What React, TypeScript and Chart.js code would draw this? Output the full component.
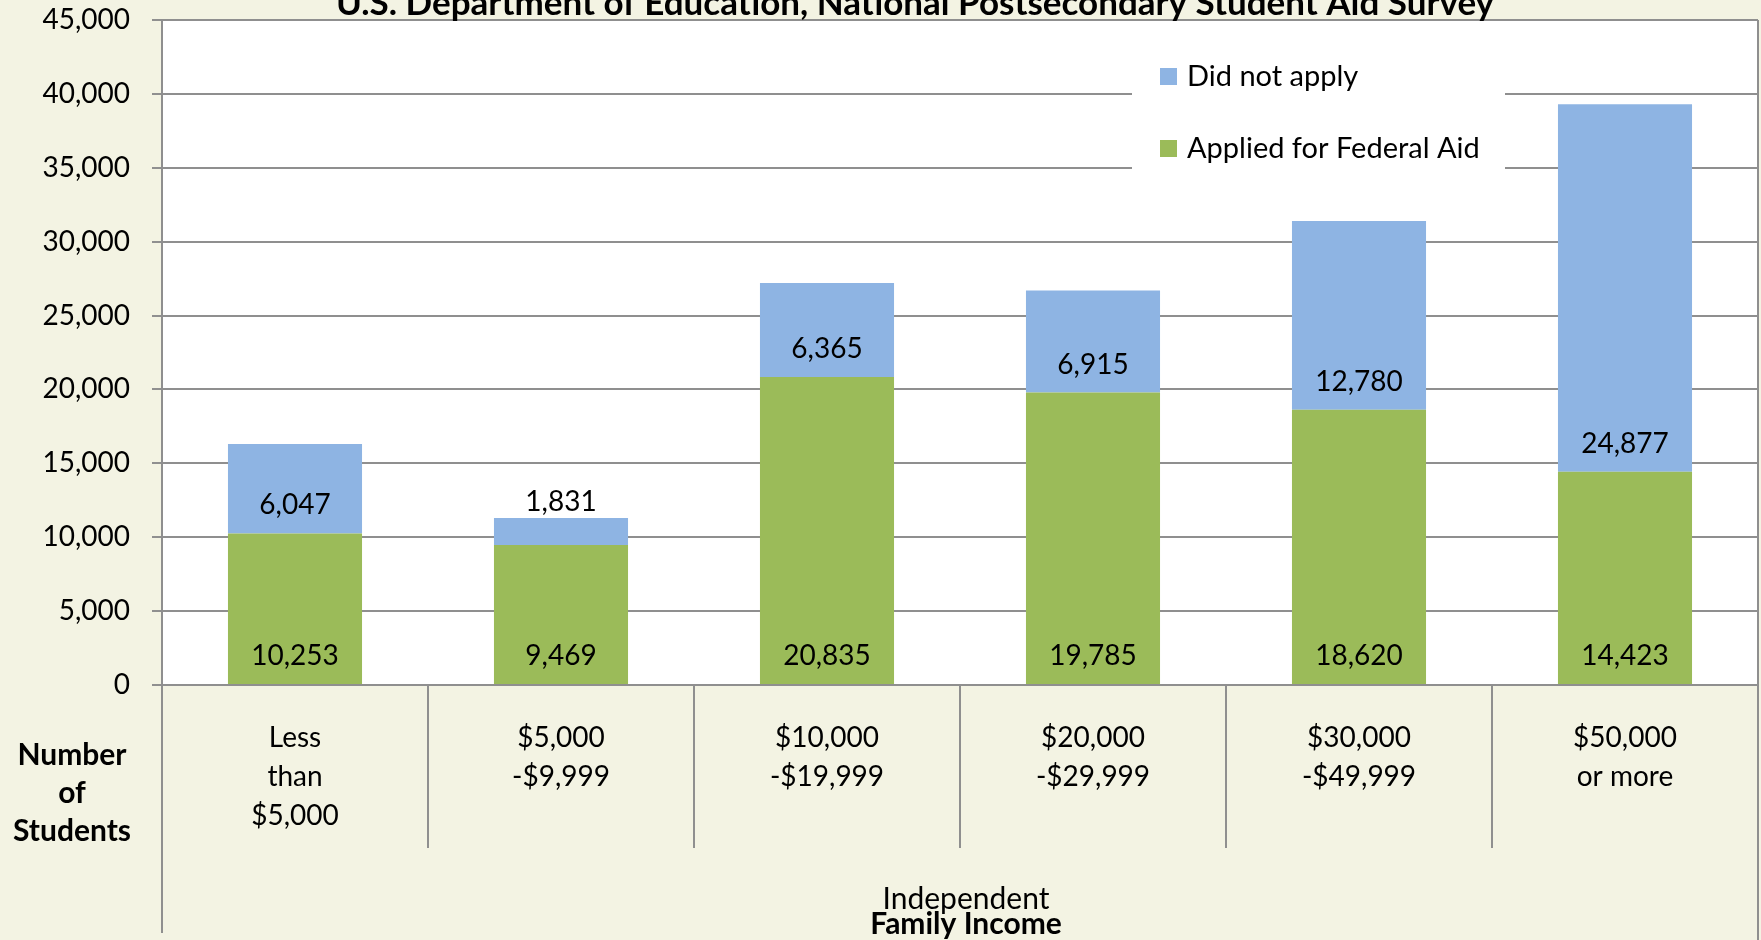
import React, { useEffect, useRef } from "react";
import { Chart, registerables } from "chart.js";

Chart.register(...registerables);

const titleText = "U.S. Department of Education, National Postsecondary Student Aid Survey";
const categories: string[][] = [
  ["Less", "than", "$5,000"],
  ["$5,000", "-$9,999"],
  ["$10,000", "-$19,999"],
  ["$20,000", "-$29,999"],
  ["$30,000", "-$49,999"],
  ["$50,000", "or more"],
];
const appliedValues = [10253, 9469, 20835, 19785, 18620, 14423];
const didNotApplyValues = [6047, 1831, 6365, 6915, 12780, 24877];
const seriesNames = ["Applied for Federal Aid", "Did not apply"];
const yMin = 0;
const yMax = 45000;
const yStep = 5000;
const yAxisTitleLines = ["Number", "of", "Students"];
const xAxisTitleLines = ["Independent", "Family Income"];

const FONT = "Lato, 'Open Sans', sans-serif";
const BG = "#F3F3E3";
const GRID = "#8F8F8F";
const GREEN = "#9BBB59";
const BLUE = "#8EB4E3";

const fmt = (v: number) => v.toLocaleString("en-US");

export default function App() {
  const ref = useRef<HTMLCanvasElement | null>(null);

  useEffect(() => {
    document.body.style.margin = "0";
    const canvas = ref.current!;
    const customPlugin = {
      id: "custom",
      beforeDraw(chart: any) {
        const { ctx, chartArea: ca } = chart;
        ctx.save();
        ctx.fillStyle = BG;
        ctx.fillRect(0, 0, chart.width, chart.height);
        ctx.fillStyle = "#FFFFFF";
        ctx.fillRect(ca.left, ca.top, ca.right - ca.left, ca.bottom - ca.top);
        ctx.restore();
      },
      beforeDatasetsDraw(chart: any) {
        const { ctx } = chart;
        ctx.save();
        ctx.fillStyle = "#FFFFFF";
        ctx.fillRect(1132, 34, 373, 150);
        const items = [
          { name: seriesNames[1], color: BLUE },
          { name: seriesNames[0], color: GREEN },
        ];
        ctx.font = `29px ${FONT}`;
        ctx.textBaseline = "alphabetic";
        ctx.textAlign = "left";
        items.forEach((it, i) => {
          const base = 86 + i * 72;
          ctx.fillStyle = it.color;
          ctx.fillRect(1160, base - 18, 17, 17);
          ctx.fillStyle = "#000";
          ctx.fillText(it.name, 1187, base);
        });
        ctx.restore();
      },
      afterDraw(chart: any) {
        const { ctx, chartArea: ca } = chart;
        const xs = chart.scales.x;
        ctx.save();
        ctx.font = `28px ${FONT}`;
        ctx.fillStyle = "#000";
        ctx.textAlign = "center";
        ctx.textBaseline = "alphabetic";
        [0, 1].forEach((di) => {
          const meta = chart.getDatasetMeta(di);
          const vals = chart.data.datasets[di].data as number[];
          meta.data.forEach((el: any, j: number) => {
            const p = el.getProps(["x", "y", "base"], true);
            const h = p.base - p.y;
            const yPos = h >= 55 ? p.base - 19 : p.y - 7;
            ctx.fillText(fmt(vals[j]), p.x, yPos);
          });
        });

        ctx.strokeStyle = GRID;
        ctx.lineWidth = 2;
        ctx.beginPath();
        ctx.moveTo(ca.left, ca.bottom);
        ctx.lineTo(ca.left, 933);
        ctx.moveTo(ca.right, ca.top);
        ctx.lineTo(ca.right, chart.height);
        for (let i = 1; i < categories.length; i++) {
          const xb = (xs.getPixelForTick(i - 1) + xs.getPixelForTick(i)) / 2;
          ctx.moveTo(Math.round(xb), ca.bottom);
          ctx.lineTo(Math.round(xb), 848);
        }
        ctx.stroke();

        ctx.fillStyle = "#000";
        ctx.font = `28px ${FONT}`;
        categories.forEach((lines, i) => {
          const x = xs.getPixelForTick(i);
          lines.forEach((ln, k) => ctx.fillText(ln, x, 747 + k * 39));
        });

        ctx.font = `bold 30px ${FONT}`;
        yAxisTitleLines.forEach((ln, k) => ctx.fillText(ln, 72, 765 + k * 38));

        const cx = (ca.left + ca.right) / 2 + 6;
        ctx.font = `30px ${FONT}`;
        ctx.fillText(xAxisTitleLines[0], cx, 909);
        ctx.font = `bold 30px ${FONT}`;
        ctx.fillText(xAxisTitleLines[1], cx, 934);

        ctx.font = `bold 30px ${FONT}`;
        const w = ctx.measureText(titleText).width;
        const size = (30 * 1157) / w;
        ctx.font = `bold ${size.toFixed(1)}px ${FONT}`;
        ctx.fillText(titleText, 915, 15);
        ctx.restore();
      },
    };

    const chart = new Chart(canvas, {
      type: "bar",
      data: {
        labels: categories.map((c) => c.join(" ")),
        datasets: [
          {
            label: seriesNames[0],
            data: appliedValues,
            backgroundColor: GREEN,
            borderWidth: 0,
            categoryPercentage: 1,
            barPercentage: 0.504,
          },
          {
            label: seriesNames[1],
            data: didNotApplyValues,
            backgroundColor: BLUE,
            borderWidth: 0,
            categoryPercentage: 1,
            barPercentage: 0.504,
          },
        ],
      },
      options: {
        responsive: false,
        animation: false,
        events: [],
        layout: { padding: { top: 20, right: 3, left: 0, bottom: 0 } },
        plugins: {
          legend: { display: false },
          title: { display: false },
          tooltip: { enabled: false },
        },
        scales: {
          x: {
            stacked: true,
            grid: { display: false },
            border: { display: false },
            ticks: { display: false },
            afterFit: (s: any) => {
              s.height = 255;
              s.paddingLeft = 0;
              s.paddingRight = 0;
            },
          },
          y: {
            stacked: true,
            min: yMin,
            max: yMax,
            ticks: {
              stepSize: yStep,
              color: "#000",
              font: { family: FONT, size: 28 },
              padding: 22,
              callback: (v: any) => fmt(Number(v)),
            },
            grid: { color: GRID, lineWidth: 2, tickLength: 10 },
            border: { color: GRID, width: 2 },
            afterFit: (s: any) => {
              s.width = 162;
              s.paddingTop = 0;
              s.paddingBottom = 0;
            },
          },
        },
      },
      plugins: [customPlugin],
    });
    return () => chart.destroy();
  }, []);

  return (
    <div style={{ width: 1761, height: 940, background: BG }}>
      <canvas ref={ref} width={1761} height={940} style={{ display: "block" }} />
    </div>
  );
}
